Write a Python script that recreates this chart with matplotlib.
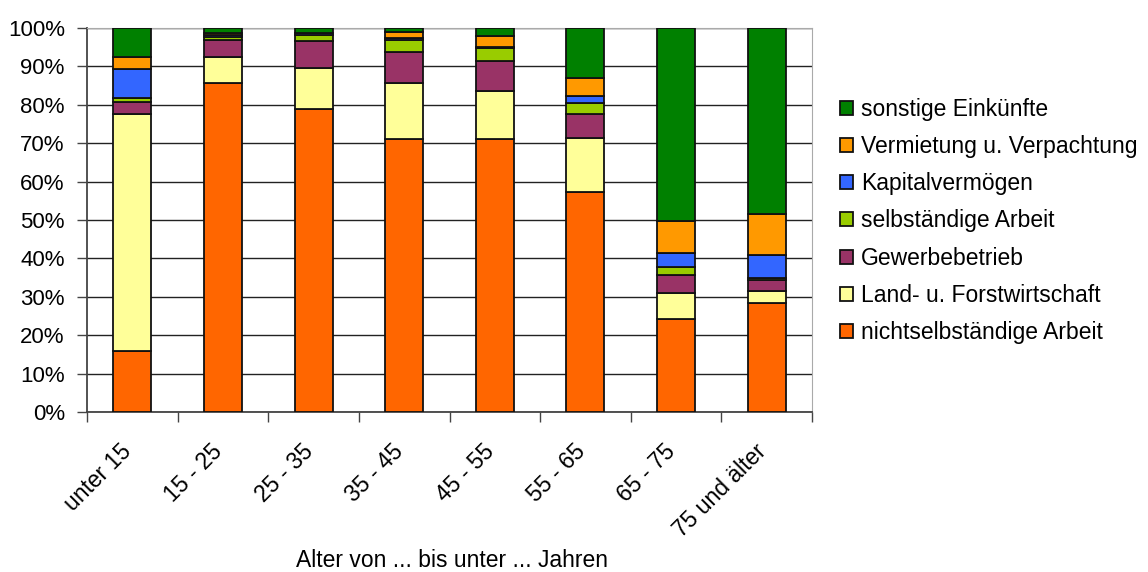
import numpy as np
import matplotlib.pyplot as plt
from matplotlib.ticker import FixedLocator, PercentFormatter
from matplotlib.transforms import ScaledTranslation

plt.rcParams['font.family'] = ['Liberation Sans', 'DejaVu Sans']

categories = ['unter 15', '15 - 25', '25 - 35', '35 - 45', '45 - 55', '55 - 65', '65 - 75', '75 und älter']

# Anteile in % je Altersgruppe, von unten nach oben gestapelt
nichtselbst = [16.0, 85.8, 79.0, 71.2, 71.2, 57.3, 24.3, 28.5]
land_forst = [61.5, 6.6, 10.7, 14.4, 12.5, 14.0, 6.8, 3.1]
gewerbe = [3.3, 4.5, 7.0, 8.2, 7.8, 6.2, 4.6, 2.8]
selbst = [1.1, 0.8, 1.6, 3.2, 3.2, 2.9, 2.0, 0.6]
kapital = [7.3, 0.6, 0.3, 0.3, 0.4, 1.9, 3.8, 5.9]
vermietung = [3.3, 0.3, 0.2, 1.7, 2.9, 4.6, 8.3, 10.7]
sonstige = [7.5, 1.4, 1.2, 1.0, 2.0, 13.1, 50.2, 48.4]

series = [
    ('nichtselbständige Arbeit', nichtselbst, '#FF6600'),
    ('Land- u. Forstwirtschaft', land_forst, '#FFFF99'),
    ('Gewerbebetrieb', gewerbe, '#993366'),
    ('selbständige Arbeit', selbst, '#99CC00'),
    ('Kapitalvermögen', kapital, '#3366FF'),
    ('Vermietung u. Verpachtung', vermietung, '#FF9900'),
    ('sonstige Einkünfte', sonstige, '#008000'),
]

W, H = 1148, 572
fig = plt.figure(figsize=(W / 100, H / 100), dpi=100)
ax = fig.add_axes([87 / W, 1 - 412 / H, (812 - 87) / W, (412 - 28) / H])

x = np.arange(len(categories))
bottom = np.zeros(len(categories))
for name, vals, col in series:
    vals = np.array(vals)
    ax.bar(x, vals, 0.42, bottom=bottom, color=col, edgecolor='#111111', linewidth=1.3,
           label=name, zorder=3)
    bottom += vals

ax.set_xlim(-0.5, len(categories) - 0.5)
ax.set_ylim(0, 100)
ax.set_yticks(np.arange(0, 101, 10))
ax.yaxis.set_major_formatter(PercentFormatter(decimals=0))
ax.yaxis.grid(True, color='#222222', linewidth=1.0, zorder=0)

ax.set_xticks(x)
ax.set_xticklabels(categories, rotation=45, ha='right', va='center', rotation_mode='anchor', fontsize=16.5)
ax.tick_params(axis='x', which='major', length=0, pad=0)
offset = ScaledTranslation(-4 / 100, -36 / 100, fig.dpi_scale_trans)
for lab in ax.get_xticklabels():
    lab.set_transform(lab.get_transform() + offset)
ax.xaxis.set_minor_locator(FixedLocator(np.arange(-0.5, len(categories), 1)))
ax.tick_params(axis='x', which='minor', length=7, color='#444444', width=1.0)
ax.tick_params(axis='y', labelsize=16, length=7, color='#444444', width=1.0, pad=9)

for s in ['top', 'right']:
    ax.spines[s].set_color('#aaaaaa')
for s in ['left', 'bottom']:
    ax.spines[s].set_color('#444444')
    ax.spines[s].set_linewidth(1.3)

fig.text(452 / W, 5 / H, 'Alter von ... bis unter ... Jahren', fontsize=16.5, ha='center', va='baseline')

handles, labels = ax.get_legend_handles_labels()
fig.legend(handles[::-1], labels[::-1], loc='center left', bbox_to_anchor=(840 / W, 1 - 221 / H),
           frameon=False, fontsize=16.5, handlelength=0.57, handleheight=0.57, handletextpad=0.35,
           labelspacing=0.62, borderpad=0, borderaxespad=0)

fig.savefig('out.png', dpi=100)
